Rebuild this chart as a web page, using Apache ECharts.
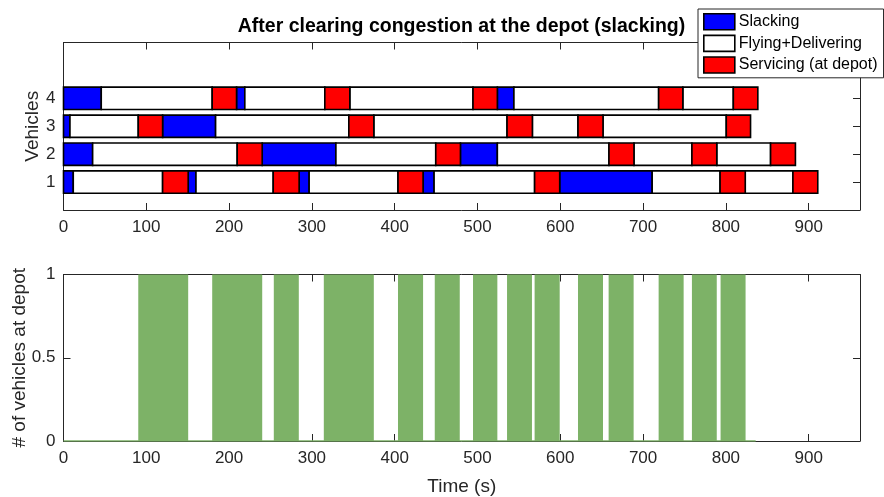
<!DOCTYPE html>
<html>
<head>
<meta charset="utf-8">
<script src="https://cdn.jsdelivr.net/npm/echarts@6/dist/echarts.min.js"></script>
<style>html,body{margin:0;padding:0;background:#fff}#c{width:884px;height:497px}</style>
</head>
<body>
<div id="c"></div>
<script>
// ---- Data ----
var vehicles = [1, 2, 3, 4];
var stateNames = { S: 'Slacking', F: 'Flying+Delivering', R: 'Servicing (at depot)' };
var vehicle1Times = [0, 11.8, 119.7, 150.6, 160, 253.3, 284.6, 296.7, 404, 434.3, 447.6, 569, 599.3, 711, 793, 823.4, 881, 911];
var vehicle1States = ['S','F','R','S','F','R','S','F','R','S','F','R','S','F','R','F','R'];
var vehicle2Times = [0, 35.2, 209.8, 240, 329, 449.6, 479.4, 524, 658.8, 689, 759, 789, 854, 884];
var vehicle2States = ['S','F','R','S','F','R','S','F','R','F','R','F','R'];
var vehicle3Times = [0, 7.8, 90.3, 119.7, 183.7, 344.6, 374.8, 535.7, 566.3, 621.4, 651.6, 800.5, 829.8];
var vehicle3States = ['S','F','R','S','F','R','F','R','F','R','F','R'];
var vehicle4Times = [0, 45.6, 179.6, 209, 219, 315.6, 345.8, 494.6, 524, 544, 718.8, 748, 809, 838.6];
var vehicle4States = ['S','F','R','S','F','R','F','R','S','F','R','F','R'];

var depotStart = [90.3, 179.6, 254, 314.4, 404, 448.4, 494.6, 535.7, 569, 621.4, 658.4, 718.8, 759, 793.6];
var depotEnd   = [150.6, 240, 284.2, 374.8, 434.3, 478.6, 524, 565.8, 599.3, 651.6, 688.6, 749, 789, 823.8];
var depotCount = [1, 1, 1, 1, 1, 1, 1, 1, 1, 1, 1, 1, 1, 1];
var depotBaseline = [[0, 0], [836, 0]];

var xTicks = [0, 100, 200, 300, 400, 500, 600, 700, 800, 900];
var vehicleTicks = [1, 2, 3, 4];
var depotTicks = [0, 0.5, 1];

// ---- Build ----
var FONT = '"Liberation Sans", Arial, Helvetica, sans-serif';
var AX = '#262626';
var timesByVehicle = [vehicle1Times, vehicle2Times, vehicle3Times, vehicle4Times];
var statesByVehicle = [vehicle1States, vehicle2States, vehicle3States, vehicle4States];
var segs = { S: [], F: [], R: [] };
vehicles.forEach(function (v, i) {
  var t = timesByVehicle[i], s = statesByVehicle[i];
  for (var k = 0; k < s.length; k++) segs[s[k]].push([t[k], t[k + 1], v]);
});
var colors = { S: '#0000ff', F: '#ffffff', R: '#ff0000' };

function segRender(params, api) {
  var p1 = api.coord([api.value(0), api.value(2)]);
  var p2 = api.coord([api.value(1), api.value(2)]);
  var h = api.size([0, 0.8])[1];
  return {
    type: 'rect',
    shape: { x: p1[0], y: p1[1] - h / 2, width: p2[0] - p1[0], height: h },
    style: { fill: api.visual('color'), stroke: '#000', lineWidth: 1.6 }
  };
}
function depotRender(params, api) {
  var p1 = api.coord([api.value(0), api.value(2)]);
  var p2 = api.coord([api.value(1), 0]);
  return {
    type: 'rect',
    shape: { x: p1[0], y: p1[1], width: p2[0] - p1[0], height: p2[1] - p1[1] },
    style: { fill: '#7db267' }
  };
}

var XMAX = 962;
function xAxisCfg(gi, pos, labels, name) {
  return {
    type: 'value', gridIndex: gi, position: pos, min: 0, max: XMAX, interval: 100,
    axisLine: { show: true, onZero: false, lineStyle: { color: AX, width: 1 } },
    axisTick: { show: true, inside: true, length: 7, lineStyle: { color: AX }, customValues: xTicks },
    axisLabel: { show: labels, customValues: xTicks, color: AX, fontFamily: FONT, fontSize: 17, margin: 9 },
    splitLine: { show: false },
    name: name || '', nameLocation: 'middle', nameGap: 36, nameMoveOverlap: false,
    nameTextStyle: { color: AX, fontFamily: FONT, fontSize: 19 }
  };
}
function yAxisCfg(gi, pos, labels, min, max, ticks, name, gap, fmt) {
  return {
    type: 'value', gridIndex: gi, position: pos, min: min, max: max,
    axisLine: { show: true, onZero: false, lineStyle: { color: AX, width: 1 } },
    axisTick: { show: true, inside: true, length: 7, lineStyle: { color: AX }, customValues: ticks },
    axisLabel: { show: labels, customValues: ticks, color: AX, fontFamily: FONT, fontSize: 17, margin: 8, formatter: fmt },
    splitLine: { show: false },
    name: name || '', nameLocation: 'middle', nameGap: gap || 30, nameRotate: 90, nameMoveOverlap: false,
    nameTextStyle: { color: AX, fontFamily: FONT, fontSize: 19 }
  };
}

var option = {
  animation: false,
  backgroundColor: '#fff',
  graphic: [{
    type: 'text', x: 461.5, y: 17, z: 10,
    style: { text: 'After clearing congestion at the depot (slacking)', textAlign: 'center',
             font: 'bold 19.5px ' + FONT, fill: '#000' }
  }],
  legend: {
    orient: 'vertical', left: 698, top: 9,
    padding: [4, 6, 4, 5], itemGap: 4, itemWidth: 31, itemHeight: 16,
    backgroundColor: '#fff', borderColor: AX, borderWidth: 1, z: 20,
    icon: 'rect',
    itemStyle: { borderColor: '#000', borderWidth: 1.6 },
    textStyle: { color: '#000', fontFamily: FONT, fontSize: 16, lineHeight: 16, padding: [0, 0, 0, -1] },
    data: [stateNames.S, stateNames.F, stateNames.R]
  },
  grid: [
    { left: 63.5, right: 24, top: 42.5, height: 167.5, outerBoundsMode: 'none', containLabel: false },
    { left: 63.5, right: 24, top: 274.5, height: 166.5, outerBoundsMode: 'none', containLabel: false }
  ],
  xAxis: [
    xAxisCfg(0, 'bottom', true),
    xAxisCfg(0, 'top', false),
    xAxisCfg(1, 'bottom', true, 'Time (s)'),
    xAxisCfg(1, 'top', false)
  ],
  yAxis: [
    yAxisCfg(0, 'left', true, 0, 6, vehicleTicks, 'Vehicles', 21),
    yAxisCfg(0, 'right', false, 0, 6, vehicleTicks),
    yAxisCfg(1, 'left', true, 0, 1, depotTicks, '# of vehicles at depot', 34,
      function (v) { return v === 0.5 ? '0.5' : String(v); }),
    yAxisCfg(1, 'right', false, 0, 1, depotTicks)
  ],
  series: [
    { type: 'custom', name: stateNames.S, xAxisIndex: 0, yAxisIndex: 0, renderItem: segRender,
      itemStyle: { color: colors.S }, encode: { x: [0, 1], y: 2 }, data: segs.S },
    { type: 'custom', name: stateNames.F, xAxisIndex: 0, yAxisIndex: 0, renderItem: segRender,
      itemStyle: { color: colors.F }, encode: { x: [0, 1], y: 2 }, data: segs.F },
    { type: 'custom', name: stateNames.R, xAxisIndex: 0, yAxisIndex: 0, renderItem: segRender,
      itemStyle: { color: colors.R }, encode: { x: [0, 1], y: 2 }, data: segs.R },
    { type: 'custom', name: 'depot', xAxisIndex: 2, yAxisIndex: 2, renderItem: depotRender,
      itemStyle: { color: '#7db267' }, encode: { x: [0, 1], y: 2 },
      data: depotStart.map(function (s, i) { return [s, depotEnd[i], depotCount[i]]; }) },
    { type: 'line', name: 'depotBase', xAxisIndex: 2, yAxisIndex: 2, data: depotBaseline,
      symbol: 'none', lineStyle: { color: '#7db267', width: 1.5 }, z: 1 }
  ]
};
var chart = echarts.init(document.getElementById('c'), null, { renderer: 'canvas' });
chart.setOption(option);
</script>
</body>
</html>
